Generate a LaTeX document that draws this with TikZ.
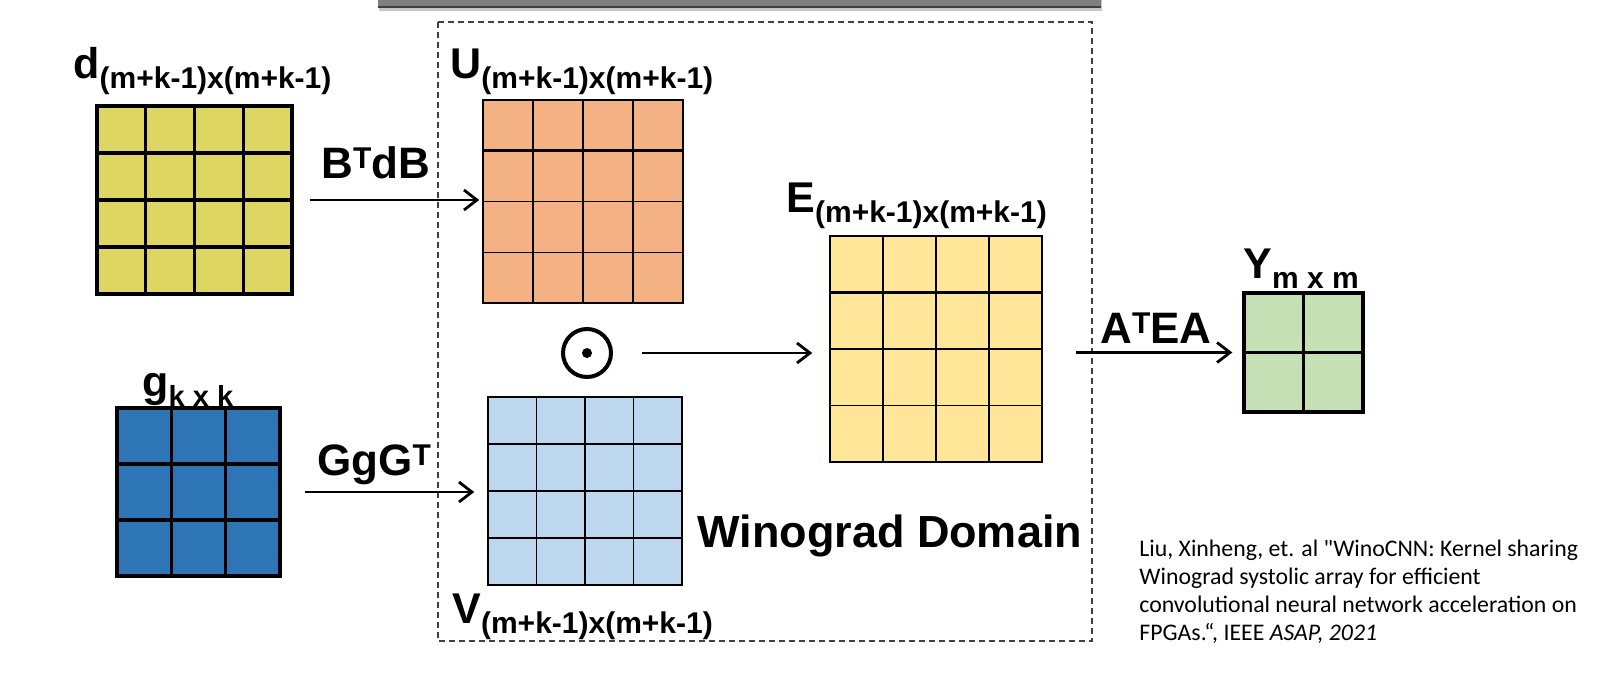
\documentclass[tikz,border=0pt]{standalone}
\usepackage{fontspec}
\setmainfont{Liberation Sans}
\newfontfamily\citefont{Carlito}
\usetikzlibrary{arrows.meta,calc,shadows}

\definecolor{dfill}{RGB}{221,214,98}
\definecolor{ufill}{RGB}{244,177,131}
\definecolor{vfill}{RGB}{189,215,238}
\definecolor{efill}{RGB}{255,230,153}
\definecolor{yfill}{RGB}{197,224,180}
\definecolor{gfill}{RGB}{46,117,182}

% big letter with its size written below right
\newcommand\mlab[3][15]{{\fontsize{21.5}{21.5}\selectfont #2}\raisebox{-5pt}{\fontsize{#1}{#1}\selectfont #3}}
\newcommand\supT{\raisebox{5pt}{\fontsize{15}{15}\selectfont T}}

\tikzset{
  cells/.style n args={2}{path picture={
      \pgfmathtruncatemacro\nc{#1-1}
      \pgfmathtruncatemacro\nr{#2-1}
      \foreach \i in {1,...,\nc}
        \draw ($(path picture bounding box.north west)!\i/#1!(path picture bounding box.north east)$)
           -- ($(path picture bounding box.south west)!\i/#1!(path picture bounding box.south east)$);
      \foreach \j in {1,...,\nr}
        \draw ($(path picture bounding box.north west)!\j/#2!(path picture bounding box.south west)$)
           -- ($(path picture bounding box.north east)!\j/#2!(path picture bounding box.south east)$);
    }},
  mat/.style={draw=black, inner sep=0pt, fill=#1},
  thickmat/.style={mat=#1, line width=1.7pt},
  thinmat/.style={mat=#1, line width=0.75pt},
  lab/.style={inner sep=0pt, anchor=base west, font=\bfseries},
  oplab/.style={lab, font=\bfseries\fontsize{22}{22}\selectfont},
  arr/.style={line width=1.4pt, -{Straight Barb[length=6.5pt,width=10pt]}},
  winobox/.style={draw=black!75, line width=0.7pt, dash pattern=on 3pt off 2pt}
}

\begin{document}
\begin{tikzpicture}[x=0.5pt,y=-0.5pt]
  \useasboundingbox (0,0) rectangle (1610,676);
  % slide title bar, cut off at the top
  \fill[black!50, drop shadow={shadow xshift=0.5pt,shadow yshift=-2pt,opacity=0.45}] (378,-20) rectangle (1101,7);
  \draw[black!75, line width=1pt] (378,7) -- (1101,7);

  \draw[winobox] (438,22) rectangle (1092,641);
  \node[lab, font=\bfseries\fontsize{22.5}{22.5}\selectfont] (dom) at (697,547) {Winograd Domain};

  % matrices
  \node[thickmat=dfill, cells={4}{4}, minimum width=97.5pt, minimum height=94pt] (d) at (194.5,200) {};
  \node[thickmat=gfill, cells={3}{3}, minimum width=81.5pt, minimum height=84pt] (g) at (198.5,492) {};
  \node[thinmat=ufill, cells={4}{4}, minimum width=100pt, minimum height=101.5pt] (U) at (583,201.5) {};
  \node[thinmat=vfill, cells={4}{4}, minimum width=97pt, minimum height=94pt] (V) at (585,491) {};
  \node[thinmat=efill, cells={4}{4}, minimum width=106pt, minimum height=113pt] (E) at (936,349) {};
  \node[thickmat=yfill, cells={2}{2}, minimum width=59.5pt, minimum height=59.5pt] (Y) at (1303.5,352.5) {};
  \draw[line width=1.4pt] ($(U.north west)!0.25!(U.south west)$) -- ($(U.north east)!0.25!(U.south east)$);
  \draw[line width=1.4pt] ($(E.north west)!0.25!(E.south west)$) -- ($(E.north east)!0.25!(E.south east)$);

  \node[lab] (dlab) at (73,78) {\mlab{d}{(m+k-1)x(m+k-1)}};
  \node[lab] (glab) at (142,396) {\mlab[14.5]{g}{k x k}};
  \node[lab] (Ulab) at (450,78) {\mlab{U}{(m+k-1)x(m+k-1)}};
  \node[lab] (Vlab) at (452,623) {\mlab{V}{(m+k-1)x(m+k-1)}};
  \node[lab] (Elab) at (786,212) {\mlab{E}{(m+k-1)x(m+k-1)}};
  \node[lab] (Ylab) at (1243,278) {\mlab{Y}{m x m}};

  % element-wise product
  \node[draw, circle, line width=2pt, minimum size=24pt, inner sep=0pt] (odot) at (587,353) {};
  \fill (odot) circle (5);

  % transforms
  \draw[arr, shorten <=8pt, shorten >=1.5pt] (d.east) -- (d.east -| U.west);
  \draw[arr, shorten <=11.5pt, shorten >=6.5pt] (g.east) -- (g.east -| V.west);
  \draw[arr, shorten <=14.5pt, shorten >=8.5pt] (odot.east) -- (odot.east -| E.west);
  \draw[arr, shorten <=16.5pt, shorten >=5pt] (E.east |- Y.west) -- (Y.west);
  \node[oplab] (btdb) at (321,178) {B\supT dB};
  \node[oplab] (ggg) at (317,475) {GgG\supT};
  \node[oplab] (atea) at (1100,343) {A\supT EA};

  \node[inner sep=0pt, anchor=north west, align=left, font=\citefont\fontsize{11.9}{14}\selectfont] (cite) at (1139,540)
    {Liu, Xinheng, et. al "WinoCNN: Kernel sharing\\
     Winograd systolic array for efficient\\
     convolutional neural network acceleration on\\
     FPGAs.“, IEEE \textit{ASAP, 2021}};
\end{tikzpicture}
\end{document}
